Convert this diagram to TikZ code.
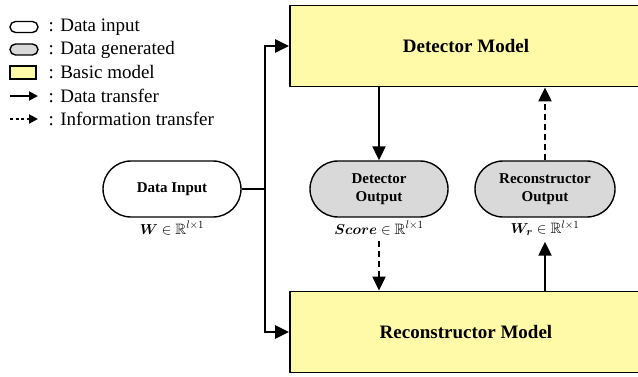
\documentclass[tikz,border=0pt]{standalone}
\usepackage{amsmath,amssymb,bm}
\usepackage{fontspec}
\setmainfont{Liberation Serif}
\usetikzlibrary{arrows.meta,shapes.misc,calc}
\definecolor{modelfill}{RGB}{255,250,168}
\definecolor{genfill}{RGB}{217,217,217}
\begin{document}
\begin{tikzpicture}[x=1pt,y=-1pt,
  model/.style={draw, line width=1.8pt, fill=modelfill, minimum width=352pt,
    minimum height=81pt, inner sep=0pt, font=\fontsize{19}{22}\selectfont\bfseries},
  term/.style={draw, line width=1.4pt, rounded rectangle, minimum width=138pt,
    minimum height=56pt, inner sep=0pt, align=center,
    font=\fontsize{15}{17.5}\selectfont\bfseries},
  datain/.style={term, fill=white},
  datagen/.style={term, fill=genfill},
  dimlabel/.style={inner sep=1pt, font=\fontsize{15}{18}\selectfont},
  flow/.style={line width=2.1pt, -{Triangle[length=14pt,width=13pt]}},
  info/.style={flow, dash pattern=on 6pt off 4pt},
  trunk/.style={line width=2.8pt},
  legtext/.style={anchor=west, inner sep=0pt, font=\fontsize{19}{22}\selectfont},
  legstad/.style={draw, line width=1.4pt, rounded rectangle, minimum width=28pt,
    minimum height=11pt, inner sep=0pt},
  legarrow/.style={line width=2pt, -{Triangle[length=9pt,width=9pt]}},
]
\useasboundingbox (0,0) rectangle (638,377);

% legend
\node[legstad, fill=white] (k1) at (24,27) {};
\node[legstad, fill=genfill] (k2) at (24,49.5) {};
\node[draw, line width=1.4pt, fill=modelfill, minimum width=26pt, minimum height=13pt,
  inner sep=0pt] (k3) at (23,72.5) {};
\coordinate (k4a) at (10,96);
\coordinate (k4b) at (38,96);
\coordinate (k5a) at (10,119);
\coordinate (k5b) at (38,119);
\draw[legarrow] (k4a) -- (k4b);
\draw[legarrow, dash pattern=on 3pt off 2.5pt] (k5a) -- (k5b);
\node[legtext] (t1) at (48.5,27) {: Data input};
\node[legtext] (t2) at (48.5,49.5) {: Data generated};
\node[legtext] (t3) at (48.5,72.5) {: Basic model};
\node[legtext] (t4) at (48.5,96) {: Data transfer};
\node[legtext] (t5) at (48.5,119) {: Information transfer};

% models
\node[model] (det) at (466,46) {Detector Model};
\node[model] (rec) at (466,332) {Reconstructor Model};

% data nodes
\node[datain] (din) at (172,189) {Data Input};
\node[datagen] (dout) at (379,189) {Detector\\Output};
\node[datagen, minimum width=140pt] (rout) at (545,189) {Reconstructor\\Output};

\node[dimlabel] (wlbl) at (172,228) {$\bm{W}\in\mathbb{R}^{l\times 1}$};
\node[dimlabel] (slbl) at (379,228) {$\bm{Score}\in\mathbb{R}^{l\times 1}$};
\node[dimlabel] (rlbl) at (545,228) {$\bm{W_r}\in\mathbb{R}^{l\times 1}$};

% input fan-out
\coordinate (jn) at (265,189);
\draw[trunk] (din.east) -- (jn);
\draw[flow, line width=2.6pt] (jn) |- (det.west);
\draw[flow, line width=2.6pt] (jn) |- (rec.west);

% model connections
\draw[flow] (dout.north |- det.south) -- (dout.north);
\draw[info] ([yshift=-5pt]slbl.south) -- (slbl.south |- rec.north);
\draw[flow] (rlbl.south |- rec.north) -- ([yshift=-5pt]rlbl.south);
\draw[info] (rout.north) -- (rout.north |- det.south);
\end{tikzpicture}
\end{document}
